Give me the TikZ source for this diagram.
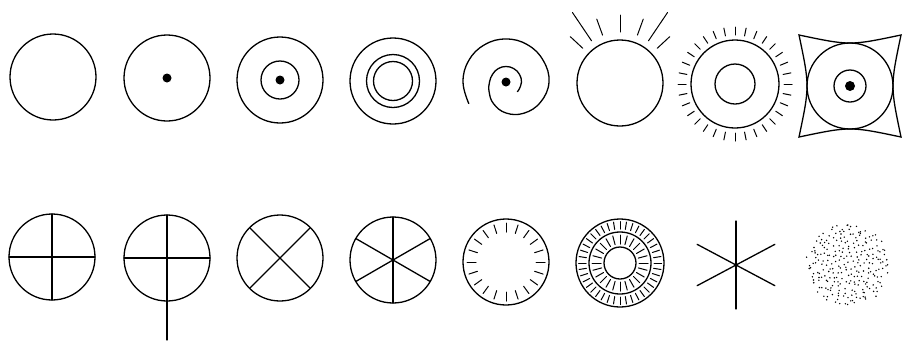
\documentclass[tikz,border=0pt]{standalone}
\usetikzlibrary{positioning}
\begin{document}
\begin{tikzpicture}[x=1pt, y=-1pt, line width=1.3pt, line cap=round,
  ring/.style={draw, line width=1.3pt},
  blot/.style={fill=black},
  tickline/.style={line width=1pt}]
\useasboundingbox (0,0) rectangle (904,341);

% Top row centres
\coordinate (t1) at (53,77);
\coordinate (t2) at (167,78);
\coordinate (t3) at (280,80);
\coordinate (t4) at (393,81);
\coordinate (t5) at (506,82);
\coordinate (t6) at (620,83);
\coordinate (t7) at (735,84);
\coordinate (t8) at (850,86);

% Bottom row centres
\coordinate (b1) at (52,257);
\coordinate (b2) at (167,258);
\coordinate (b3) at (280,258);
\coordinate (b4) at (393,260);
\coordinate (b5) at (506,262);
\coordinate (b6) at (620,263);
\coordinate (b7) at (736,265);
\coordinate (b8) at (848,265);

% Plain circle, circle with dot
\draw[ring] (t1) circle[radius=43];
\draw[ring] (t2) circle[radius=43];
\fill[blot] (t2) circle[radius=4.5];

% Circle, ring and dot
\draw[ring] (t3) circle[radius=43];
\draw[ring] (t3) circle[radius=19];
\fill[blot] (t3) circle[radius=4.5];

% Three rings
\draw[ring] (t4) circle[radius=43];
\draw[ring] (t4) circle[radius=26.5];
\draw[ring] (t4) circle[radius=19.5];

% Spiral
\begin{scope}[shift={(t5)}]
\draw[ring] plot[smooth, tension=0.7] coordinates {(-210:43) (-180:43) (-150:43) (-120:43)
  (-90:43) (-60:43) (-30:43) (0:43) (30:40) (60:36) (90:31) (120:25) (150:19.5)
  (180:16.5) (210:15.5) (240:15.5) (270:15.5) (300:15.5) (330:15.5) (360:15.5)
  (390:15) (400:14.8)};
\end{scope}
\fill[blot] (t5) circle[radius=4.5];

% Rising sun
\draw[ring] (t6) circle[radius=43];
\foreach \a in {-43,-70,-90,-110,-137}
  \draw[tickline] (t6) ++(\a:51) -- ++(\a:17);
\foreach \a in {-56,-124}
  \draw[tickline] (t6) ++(\a:51) -- ++(\a:34);

% Ring with rays
\draw[ring] (t7) circle[radius=44];
\draw[ring] (t7) circle[radius=20];
\foreach \a in {0,11.25,...,349}
  \draw[tickline] (t7) ++(\a:49) -- ++(\a:8);

% Circle in concave square
\draw[ring] (t8) ++(-51,-51) .. controls +(51,10.7) .. ++(102,0)
  .. controls +(-10.7,51) .. ++(0,102)
  .. controls +(-51,-10.7) .. ++(-102,0)
  .. controls +(10.7,-51) .. ++(0,-102) -- cycle;
\draw[ring] (t8) circle[radius=43];
\draw[ring] (t8) circle[radius=16];
\fill[blot] (t8) circle[radius=5];

% Quartered circles
\draw[ring] (b1) circle[radius=43];
\foreach \a in {0,90,180,270}
  \draw[ring] (b1) -- ++(\a:43);
\draw[ring] (b2) circle[radius=43];
\foreach \a in {0,90,180,270}
  \draw[ring] (b2) -- ++(\a:43);
\draw[ring] (b2) -- ++(0,82);

% Crossed circles
\draw[ring] (b3) circle[radius=43];
\foreach \a in {45,135,225,315}
  \draw[ring] (b3) -- ++(\a:43);
\draw[ring] (b4) circle[radius=43];
\foreach \a in {90,270,30,150,210,330}
  \draw[ring] (b4) -- ++(\a:43);

% Circle with inner ticks
\draw[ring] (b5) circle[radius=43];
\foreach \a in {0,18,...,342}
  \draw[tickline] (b5) ++(\a:30) -- ++(\a:9);

% Banded rings
\draw[ring] (b6) circle[radius=44];
\draw[ring] (b6) circle[radius=31];
\draw[ring] (b6) circle[radius=16];
\foreach \a in {0,9,...,351}
  \draw[tickline] (b6) ++(\a:34) -- ++(\a:7.5);
\foreach \a in {0,15,...,345}
  \draw[tickline] (b6) ++(\a:19) -- ++(\a:9);

% Star
\foreach \a in {90,270,28,152,208,332}
  \draw[ring] (b7) -- ++(\a:44);

% Dotted disk
\pgfmathsetseed{17}
\foreach \i in {1,...,240} {
  \pgfmathsetmacro{\rr}{41*sqrt((\i-0.5)/240)+1.5*rand}
  \pgfmathsetmacro{\aa}{360*mod(\i*0.381966,1)+6*rand}
  \fill (b8) ++(\aa:\rr) circle[radius=0.8];
}

\end{tikzpicture}
\end{document}
